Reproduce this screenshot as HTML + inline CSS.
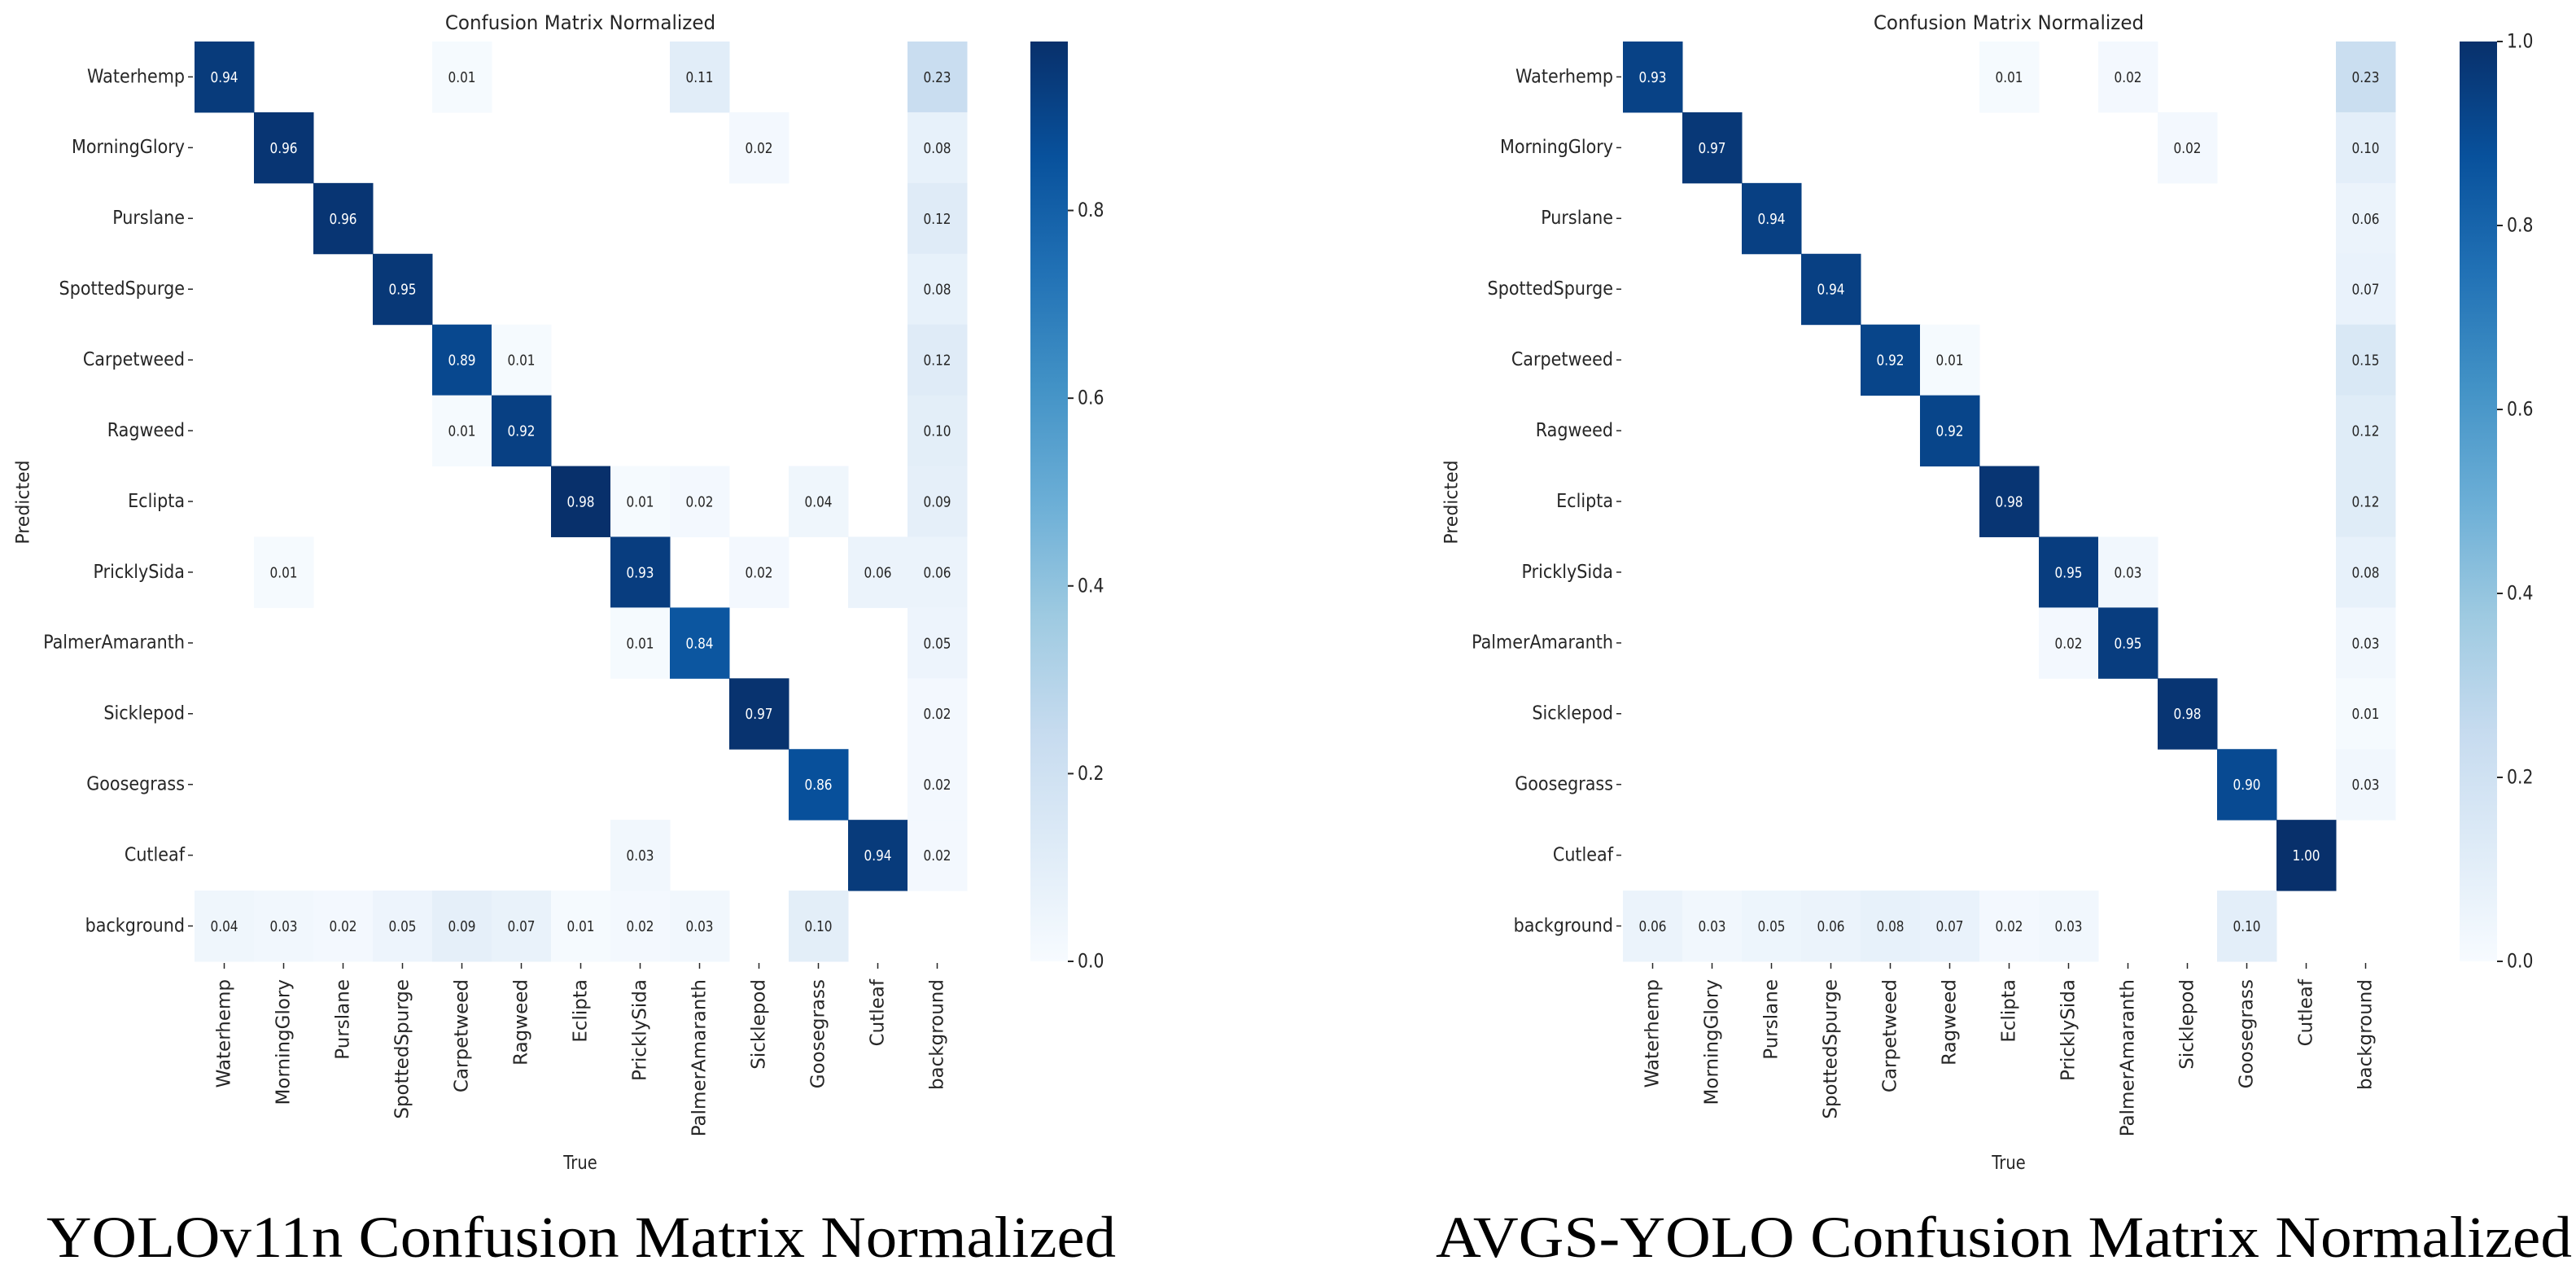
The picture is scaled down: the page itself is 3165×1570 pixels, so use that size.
<!DOCTYPE html>
<html><head><meta charset="utf-8"><style>
html,body{margin:0;padding:0;background:#fff;}
svg{display:block;}
text{font-family:"DejaVu Sans","Liberation Sans",sans-serif;fill:#262626;}
.cap{font-family:"Liberation Serif",serif;fill:#000;}
</style></head><body>
<svg id="fig" width="3165" height="1570" viewBox="0 0 3165 1570" xmlns="http://www.w3.org/2000/svg">
<defs>
<linearGradient id="blues" x1="0" y1="1" x2="0" y2="0">
<stop offset="0" stop-color="#f7fbff"/><stop offset="0.125" stop-color="#deebf7"/><stop offset="0.25" stop-color="#c6dbef"/><stop offset="0.375" stop-color="#9ecae1"/><stop offset="0.5" stop-color="#6baed6"/><stop offset="0.625" stop-color="#4292c6"/><stop offset="0.75" stop-color="#2171b5"/><stop offset="0.875" stop-color="#08519c"/><stop offset="1" stop-color="#08306b"/>
</linearGradient>
</defs>
</svg>
<script>
const classes = ["Waterhemp","MorningGlory","Purslane","SpottedSpurge","Carpetweed","Ragweed","Eclipta","PricklySida","PalmerAmaranth","Sicklepod","Goosegrass","Cutleaf","background"];
// rows = predicted, cols = true; null = empty
const matrixA = [
 [0.94,null,null,null,0.01,null,null,null,0.11,null,null,null,0.23],
 [null,0.96,null,null,null,null,null,null,null,0.02,null,null,0.08],
 [null,null,0.96,null,null,null,null,null,null,null,null,null,0.12],
 [null,null,null,0.95,null,null,null,null,null,null,null,null,0.08],
 [null,null,null,null,0.89,0.01,null,null,null,null,null,null,0.12],
 [null,null,null,null,0.01,0.92,null,null,null,null,null,null,0.10],
 [null,null,null,null,null,null,0.98,0.01,0.02,null,0.04,null,0.09],
 [null,0.01,null,null,null,null,null,0.93,null,0.02,null,0.06,0.06],
 [null,null,null,null,null,null,null,0.01,0.84,null,null,null,0.05],
 [null,null,null,null,null,null,null,null,null,0.97,null,null,0.02],
 [null,null,null,null,null,null,null,null,null,null,0.86,null,0.02],
 [null,null,null,null,null,null,null,0.03,null,null,null,0.94,0.02],
 [0.04,0.03,0.02,0.05,0.09,0.07,0.01,0.02,0.03,null,0.10,null,null]
];
const matrixB = [
 [0.93,null,null,null,null,null,0.01,null,0.02,null,null,null,0.23],
 [null,0.97,null,null,null,null,null,null,null,0.02,null,null,0.10],
 [null,null,0.94,null,null,null,null,null,null,null,null,null,0.06],
 [null,null,null,0.94,null,null,null,null,null,null,null,null,0.07],
 [null,null,null,null,0.92,0.01,null,null,null,null,null,null,0.15],
 [null,null,null,null,null,0.92,null,null,null,null,null,null,0.12],
 [null,null,null,null,null,null,0.98,null,null,null,null,null,0.12],
 [null,null,null,null,null,null,null,0.95,0.03,null,null,null,0.08],
 [null,null,null,null,null,null,null,0.02,0.95,null,null,null,0.03],
 [null,null,null,null,null,null,null,null,null,0.98,null,null,0.01],
 [null,null,null,null,null,null,null,null,null,null,0.90,null,0.03],
 [null,null,null,null,null,null,null,null,null,null,null,1.00,null],
 [0.06,0.03,0.05,0.06,0.08,0.07,0.02,0.03,null,null,0.10,null,null]
];
const cbTicksA = [0.0,0.2,0.4,0.6,0.8];
const cbTicksB = [0.0,0.2,0.4,0.6,0.8,1.0];
const vmaxA = 0.98, vmaxB = 1.0;
const captionA = "YOLOv11n Confusion Matrix Normalized";
const captionB = "AVGS-YOLO Confusion Matrix Normalized";

const NS="http://www.w3.org/2000/svg";
const svg=document.getElementById('fig');
const stops=[[247,251,255],[222,235,247],[198,219,239],[158,202,225],[107,174,214],[66,146,198],[33,113,181],[8,81,156],[8,48,107]];
function blues(t){t=Math.max(0,Math.min(1,t));const p=t*8,i=Math.min(7,Math.floor(p)),f=p-i;const a=stops[i],b=stops[i+1];return 'rgb('+a.map((v,k)=>Math.round(v+(b[k]-v)*f)).join(',')+')';}
function el(tag,attrs,parent){const e=document.createElementNS(NS,tag);for(const k in attrs)e.setAttribute(k,attrs[k]);(parent||svg).appendChild(e);return e;}
function htext(x,y,str,size,sx,anchor,parent,fill){
  const t=el('text',{transform:'translate('+x+','+y+') scale('+sx+',1)','font-size':size,'text-anchor':anchor,'dominant-baseline':'central'},parent);
  if(fill)t.setAttribute('style','fill:'+fill);
  t.textContent=str;return t;}

function panel(ox,matrix,vmax,ticks,cbx,caption,capX,capW,name){
  const g=el('g',{});
  
  
  const top=51,bottom=1181,n=classes.length;
  const cw=949/n,ch=(bottom-top)/n;
  const xs=i=>ox+i*cw, ys=i=>top+i*ch;
  // title
  const tt=htext(ox+474,28,"Confusion Matrix Normalized",24,0.96,'middle',g);
  
  
  // cells
  matrix.forEach((row,r)=>row.forEach((v,c)=>{
    if(v===null)return;
    const rc=el('rect',{x:xs(c),y:ys(r),width:cw+0.5,height:ch+0.5,fill:blues(v/vmax)},g);
    
    
    const lt=htext(xs(c)+cw/2,ys(r)+ch/2,v.toFixed(2),18,0.85,'middle',g,v/vmax>0.5?'#ffffff':'#262626');
    
    
  }));
  // y tick labels
  classes.forEach((c,i)=>{
    const cy=ys(i)+ch/2;
    el('line',{x1:ox-8,x2:ox-2,y1:cy,y2:cy,stroke:'#262626','stroke-width':1.5},g);
    const t=htext(ox-12,cy,c,23,0.9,'end',g);
    
    
  });
  // x tick labels
  classes.forEach((c,i)=>{
    const cx=xs(i)+cw/2;
    el('line',{x1:cx,x2:cx,y1:bottom+2,y2:bottom+9,stroke:'#262626','stroke-width':1.5},g);
    const t=el('text',{transform:'translate('+cx+','+(bottom+22)+') rotate(-90)','font-size':23,'text-anchor':'end','dominant-baseline':'central'},g);
    t.textContent=c;
    
    
  });
  const yl=el('text',{transform:'translate('+(ox-210)+',617) rotate(-90)','font-size':22,'text-anchor':'middle','dominant-baseline':'central'},g);
  yl.textContent='Predicted';
  
  
  const xl=htext(ox+474,1429,'True',23,0.85,'middle',g);
  
  
  // colorbar
  const cbw=46;
  const cb=el('rect',{x:cbx,y:top,width:cbw,height:bottom-top,fill:'url(#blues)'},g);
  
  
  const cy=v=>bottom-(v/vmax)*(bottom-top);
  ticks.forEach(v=>{
    el('line',{x1:cbx+cbw,x2:cbx+cbw+7,y1:cy(v),y2:cy(v),stroke:'#262626','stroke-width':2},g);
    const t=htext(cbx+cbw+12,cy(v),v.toFixed(1),24,0.85,'start',g);
    
    
  });
  const cp=el('text',{x:capX,y:1544,'font-size':72,textLength:capW,lengthAdjust:'spacingAndGlyphs',class:'cap'},g);
  cp.textContent=caption;
  
  
}
panel(239,matrixA,vmaxA,cbTicksA,1266,captionA,57,1314,'yolov11n-confusion-matrix');
panel(1994,matrixB,vmaxB,cbTicksB,3022,captionB,1764,1396,'avgs-yolo-confusion-matrix');
</script>
</body></html>
